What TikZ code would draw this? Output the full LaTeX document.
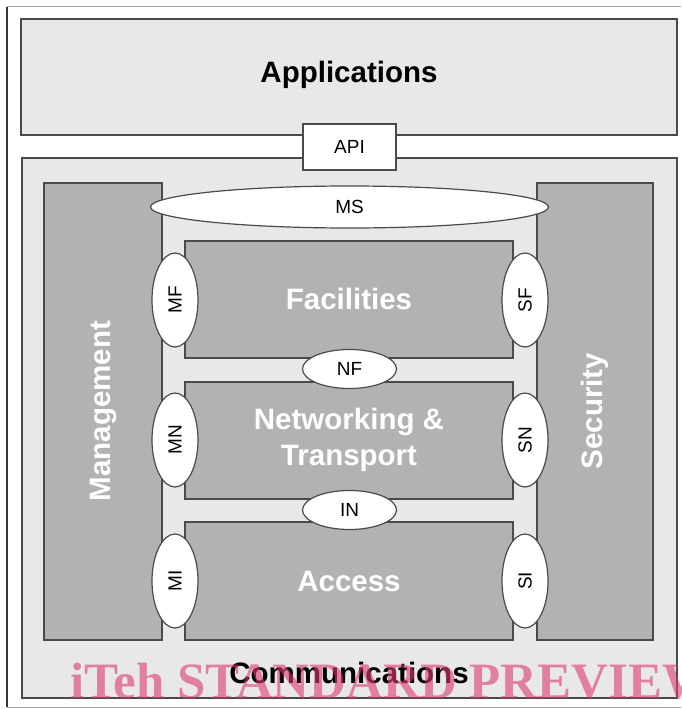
\documentclass[tikz,border=0pt]{standalone}
\usepackage{fontspec}
\setmainfont{Liberation Sans}
\newfontfamily\wmfont{Liberation Serif}
\usetikzlibrary{shapes.geometric}
\definecolor{lightfill}{HTML}{E8E8E8}
\definecolor{darkfill}{HTML}{B2B2B2}
\definecolor{edge}{HTML}{4A4A4A}
\definecolor{wmpink}{RGB}{220,60,110}
\tikzset{
  layer/.style={draw=edge, line width=1.3pt, fill=lightfill},
  block/.style={draw=edge, line width=1.3pt, fill=darkfill},
  bigtext/.style={font=\fontsize{29.5}{36}\selectfont\bfseries, text=white, align=center},
  iface/.style={ellipse, draw=edge, line width=1.2pt, fill=white, inner sep=0pt,
     font=\fontsize{19}{23}\selectfont},
  vface/.style={iface, minimum width=94pt, minimum height=46pt, rotate=90},
  hface/.style={iface, minimum width=94pt, minimum height=39pt}
}
\begin{document}
\begin{tikzpicture}[x=1pt,y=-1pt]
\useasboundingbox (0,0) rectangle (681,709);
\clip (0,0) rectangle (681,709);
\fill[white] (0,0) rectangle (681,709);
% outer frame
\draw[draw=gray!70, line width=1pt] (7,7) rectangle (700,707);
\draw[draw=black!80, line width=1.2pt] (7,7) -- (7,707);
% Applications layer
\draw[layer] (21,19) rectangle (677,135);
\node[font=\fontsize{29.5}{34}\selectfont\bfseries] (app) at (349,75) {Applications};
% Communications layer
\draw[layer] (22,158) rectangle (677,698);
% API
\node[draw=edge, line width=1.3pt, fill=white, minimum width=93pt, minimum height=46pt,
      inner sep=0pt, font=\fontsize{19}{23}\selectfont] (api) at (349.5,147) {API};
% side blocks
\draw[block] (44,183) rectangle (162,640);
\node[bigtext, rotate=90] (mgmt) at (103,411) {Management};
\draw[block] (537,183) rectangle (653,640);
\node[bigtext, rotate=90] (sec) at (595,411) {Security};
% central blocks
\draw[block] (185,241) rectangle (513,358);
\node[bigtext] (fac) at (349,299) {Facilities};
\draw[block] (185,382) rectangle (513,499);
\node[bigtext] (net) at (349,440) {Networking \&\\Transport};
\draw[block] (185,522) rectangle (513,640);
\node[bigtext] (acc) at (349,581) {Access};
% interfaces
\node[iface, minimum width=398pt, minimum height=42pt] (ms) at (349.5,207) {MS};
\node[hface] (nf) at (349.5,369) {NF};
\node[hface] (in) at (349.5,510) {IN};
\node[vface] (mf) at (175,300) {MF};
\node[vface] (mn) at (175,440) {MN};
\node[vface] (mi) at (175,581) {MI};
\node[vface] (sf) at (525,300) {SF};
\node[vface] (sn) at (525,440) {SN};
\node[vface] (si) at (525,581) {SI};
% Communications label
\node[font=\fontsize{29.5}{34}\selectfont\bfseries] (comm) at (349,673) {Communications};
% watermark
\node[anchor=base west, inner sep=0pt, text=wmpink, text opacity=0.6,
      font=\fontsize{51}{56}\wmfont\bfseries] (wm) at (70,698) {iTeh STANDARD PREVIEW};
\end{tikzpicture}
\end{document}
